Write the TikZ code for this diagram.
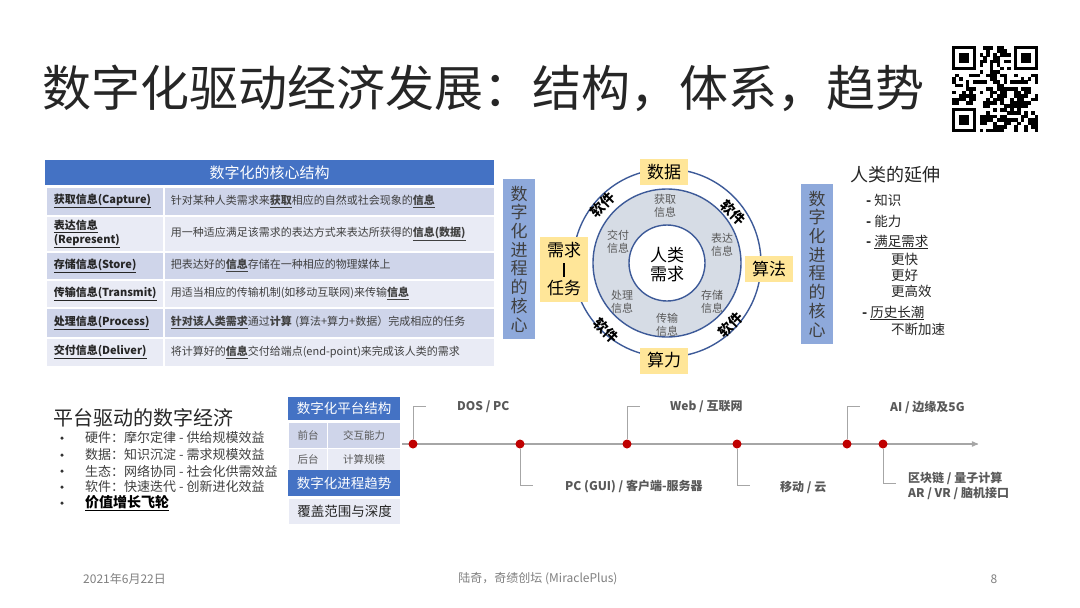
\documentclass[tikz,border=0pt]{standalone}
\usepackage{fontspec}
\setmainfont{Noto Sans CJK SC}
\usetikzlibrary{arrows,positioning,calc}
\definecolor{hdrblue}{HTML}{4472C4}
\definecolor{rowdark}{HTML}{CFD5EA}
\definecolor{rowlight}{HTML}{E9EBF5}
\definecolor{sideblue}{HTML}{8EA9DB}
\definecolor{ringgray}{HTML}{D6DCE5}
\definecolor{ringblue}{HTML}{3D5A98}
\definecolor{boxyellow}{HTML}{FFE699}
\definecolor{dotred}{HTML}{C00000}
\definecolor{txtgray}{HTML}{595959}
\definecolor{darktxt}{HTML}{262626}
\definecolor{linegray}{HTML}{A6A6A6}
\newcommand{\fsz}[2][1.2]{\fontsize{#2}{#1\dimexpr#2pt\relax}\selectfont}
\newcommand{\keyul}[1]{\underline{\textbf{#1}}}
\tikzset{
  tabhead/.style={fill=hdrblue,text=white,inner sep=0pt,font=\fsz{15}},
  cellL/.style={anchor=north west,draw=white,line width=1.5pt,text width=102pt,inner xsep=8pt,inner ysep=0pt,align=left,text=darktxt,font={\fsz[1.25]{11}}},
  cellR/.style={anchor=north west,draw=white,line width=1.5pt,text width=317pt,inner xsep=7pt,inner ysep=0pt,align=left,text=black!75,font=\fsz{11}},
  ring/.style={draw=ringblue,line width=1.4pt},
  infolbl/.style={align=center,text=txtgray,font=\fsz{11}},
  ybox/.style={fill=boxyellow,minimum width=48pt,minimum height=26pt,inner sep=0pt,align=center,font={\fsz[1.12]{17}}},
  softlbl/.style={font=\fsz{14}\bfseries,inner sep=0pt},
  sidebox/.style={fill=sideblue,minimum width=32pt,minimum height=160pt,inner sep=0pt,align=center,text=black!75,font={\fsz[1.1]{17}}},
  extitem/.style={anchor=west,inner sep=0pt,text=darktxt,font=\fsz{13.5}},
  bullet/.style={anchor=west,inner sep=0pt,text=black!75,font=\fsz{13}},
  bdot/.style={circle,fill=black!80,minimum size=3.5pt,inner sep=0pt},
  minicell/.style={anchor=north west,draw=white,line width=1pt,inner xsep=6pt,inner ysep=0pt,text=txtgray,font=\fsz{10.5}},
  tline/.style={draw=linegray,line width=1.2pt},
  lead/.style={draw=linegray,line width=0.9pt},
  dot/.style={circle,fill=dotred,minimum size=9pt,inner sep=0pt},
  tlabel/.style={anchor=west,inner sep=0pt,text=txtgray,font=\fsz{12}\bfseries,align=left},
  foot/.style={inner sep=0pt,text=black!50,font=\fsz{12}}
}
\begin{document}
\begin{tikzpicture}[x=1pt,y=-1pt,>=stealth']
\fill[white] (0,0) rectangle (1080,608);
\useasboundingbox (0,0) rectangle (1080,608);

\node[anchor=west,inner sep=0pt,text=darktxt,font=\fsz{49}] (title) at (42,88) {数字化驱动经济发展：结构，体系，趋势};

\def\qx{952}\def\qy{46}\def\qm{3.44}
\pgfmathsetseed{17}
\foreach \i in {0,...,24}{
  \foreach \j in {0,...,24}{
    \pgfmathtruncatemacro{\qon}{(rnd<0.5)*((\i>7)||(\j>7))*((\i<17)||(\j>7))*((\i>7)||(\j<17))}
    \ifnum\qon=1 \fill (\qx+\i*\qm,\qy+\j*\qm) rectangle ++(\qm+0.2,\qm+0.2); \fi
  }
}
\foreach \fx/\fy in {0/0,18/0,0/18}{
  \fill (\qx+\fx*\qm,\qy+\fy*\qm) rectangle ++(7*\qm,7*\qm);
  \fill[white] (\qx+\fx*\qm+\qm,\qy+\fy*\qm+\qm) rectangle ++(5*\qm,5*\qm);
  \fill (\qx+\fx*\qm+2*\qm,\qy+\fy*\qm+2*\qm) rectangle ++(3*\qm,3*\qm);
}

\node[tabhead,anchor=north west,minimum width=449pt,minimum height=25pt] (thead) at (45,160) {数字化的核心结构};
\node[cellL,fill=rowdark,minimum height=29pt] (l1) at (45,186) {\keyul{获取信息(Capture)}};
\node[cellR,fill=rowdark,minimum height=29pt] (r1) at (163,186) {针对某种人类需求来\keyul{获取}相应的自然或社会现象的\keyul{信息}};
\node[cellL,fill=rowlight,minimum height=36pt] (l2) at (45,215) {\keyul{表达信息}\\\keyul{(Represent)}};
\node[cellR,fill=rowlight,minimum height=36pt] (r2) at (163,215) {用一种适应满足该需求的表达方式来表达所获得的\keyul{信息(数据)}};
\node[cellL,fill=rowdark,minimum height=28pt] (l3) at (45,251) {\keyul{存储信息(Store)}};
\node[cellR,fill=rowdark,minimum height=28pt] (r3) at (163,251) {把表达好的\keyul{信息}存储在一种相应的物理媒体上};
\node[cellL,fill=rowlight,minimum height=28pt] (l4) at (45,279) {\keyul{传输信息(Transmit)}};
\node[cellR,fill=rowlight,minimum height=28pt] (r4) at (163,279) {用适当相应的传输机制(如移动互联网)来传输\keyul{信息}};
\node[cellL,fill=rowdark,minimum height=30pt] (l5) at (45,307) {\keyul{处理信息(Process)}};
\node[cellR,fill=rowdark,minimum height=30pt] (r5) at (163,307) {\keyul{针对该人类需求}通过\textbf{计算} (算法+算力+数据）完成相应的任务};
\node[cellL,fill=rowlight,minimum height=29pt] (l6) at (45,337) {\keyul{交付信息(Deliver)}};
\node[cellR,fill=rowlight,minimum height=29pt] (r6) at (163,337) {将计算好的\keyul{信息}交付给端点(end-point)来完成该人类的需求};

\node[sidebox] (coreL) at (519,259) {数\\字\\化\\进\\程\\的\\核\\心};
\coordinate (hub) at (667,263);
\draw[ring] (hub) circle (94pt);
\draw[ring,fill=ringgray] (hub) circle (74pt);
\draw[ring,fill=white] (hub) circle (38pt);
\node[align=center,font={\fsz[1.12]{17}}] (need) at (667,265) {人类\\需求};
\node[infolbl] (i1) at (665,206) {获取\\信息};
\node[infolbl] (i2) at (722,245) {表达\\信息};
\node[infolbl] (i3) at (712,302) {存储\\信息};
\node[infolbl] (i4) at (667,325) {传输\\信息};
\node[infolbl] (i5) at (622,302) {处理\\信息};
\node[infolbl] (i6) at (618,242) {交付\\信息};
\node[softlbl,rotate=45] (sw1) at (603,205) {软件};
\node[softlbl,rotate=-45] (sw2) at (733,213) {软件};
\node[softlbl,rotate=-45] (sw3) at (606,331) {软件};
\node[softlbl,rotate=45] (sw4) at (731,325) {软件};
\node[ybox] (data) at (664,172) {数据};
\node[ybox] (algo) at (769,269) {算法};
\node[ybox] (power) at (664,360.5) {算力};
\node[ybox,minimum height=65pt] (task) at (564,269.5) {需求\\\rule[-1pt]{1.3pt}{14pt}\\任务};
\node[sidebox] (coreR) at (817,264) {数\\字\\化\\进\\程\\的\\核\\心};

\node[anchor=west,inner sep=0pt,font=\fsz{18},text=darktxt] (ext) at (850,175) {人类的延伸};
\node[extitem] (e1) at (866,200) {\textbf{-} 知识};
\node[extitem] (e2) at (866,221) {\textbf{-} 能力};
\node[extitem] (e3) at (866,242) {\textbf{-} \underline{满足需求}};
\node[extitem] (e4) at (891,259) {更快};
\node[extitem] (e5) at (891,275) {更好};
\node[extitem] (e6) at (891,291) {更高效};
\node[extitem] (e7) at (862,313) {\textbf{-} \underline{历史长潮}};
\node[extitem] (e8) at (891,329) {不断加速};

\node[anchor=west,inner sep=0pt,font=\fsz{20},text=darktxt] (plat) at (53,418) {平台驱动的数字经济};
\foreach \n/\y/\t in {1/438/硬件：摩尔定律 - 供给规模效益,2/455/数据：知识沉淀 - 需求规模效益,3/471/生态：网络协同 - 社会化供需效益,4/487/软件：快速迭代 - 创新进化效益}{
  \node[bdot] (b\n) at (62,\y) {};
  \node[bullet] (p\n) at (85,\y) {\t};
}
\node[bdot] (b5) at (62,503) {};
\node[bullet,text=black,font=\fsz{14}] (p5) at (85,503) {\keyul{价值增长飞轮}};

\node[tabhead,anchor=north west,minimum width=112pt,minimum height=23pt,font=\fsz{13.5}] (ph) at (288,397) {数字化平台结构};
\node[minicell,fill=rowdark,minimum width=39pt,minimum height=26pt] (pf1) at (288,421.5) {前台};
\node[minicell,fill=rowdark,minimum width=73pt,minimum height=26pt,anchor=north west] (pf2) at (327,421.5) {交互能力};
\node[minicell,fill=rowlight,minimum width=39pt,minimum height=22pt] (pb1) at (288,448) {后台};
\node[minicell,fill=rowlight,minimum width=73pt,minimum height=22pt] (pb2) at (327,448) {计算规模};
\node[tabhead,anchor=north west,minimum width=112pt,minimum height=26pt,font=\fsz{13.5}] (th) at (288,470) {数字化进程趋势};
\node[minicell,fill=rowlight,minimum width=112pt,minimum height=26pt,text=darktxt,font=\fsz{13.5}] (tr) at (288,497.5) {覆盖范围与深度};

\coordinate (tl0) at (402,444);
\coordinate (tl1) at (978,444);
\draw[tline,->] (tl0) -- (tl1);
\foreach \n/\x/\y in {1/413/406,2/520/485,3/627/406,4/737/485,5/847/406,6/883/483}{
  \node[dot] (d\n) at (\x,444) {};
  \coordinate (k\n) at (\x+13,\y);
  \draw[lead] (d\n) |- (k\n);
}
\node[tlabel] (m1) at (457,407) {DOS / PC};
\node[tlabel] (m2) at (565,487) {PC (GUI) / 客户端-服务器};
\node[tlabel] (m3) at (670,407) {Web / 互联网};
\node[tlabel] (m4) at (780,487) {移动 / 云};
\node[tlabel] (m5) at (890,407) {AI / 边缘及5G};
\node[tlabel,font={\fsz[1.2]{12}\bfseries}] (m6) at (908,486) {区块链 / 量子计算\\AR / VR / 脑机接口};

\node[foot,anchor=west] (date) at (83,579) {2021年6月22日};
\node[foot] (author) at (538,579) {陆奇，奇绩创坛 (MiraclePlus)};
\node[foot] (page) at (994,579) {8};
\end{tikzpicture}
\end{document}
